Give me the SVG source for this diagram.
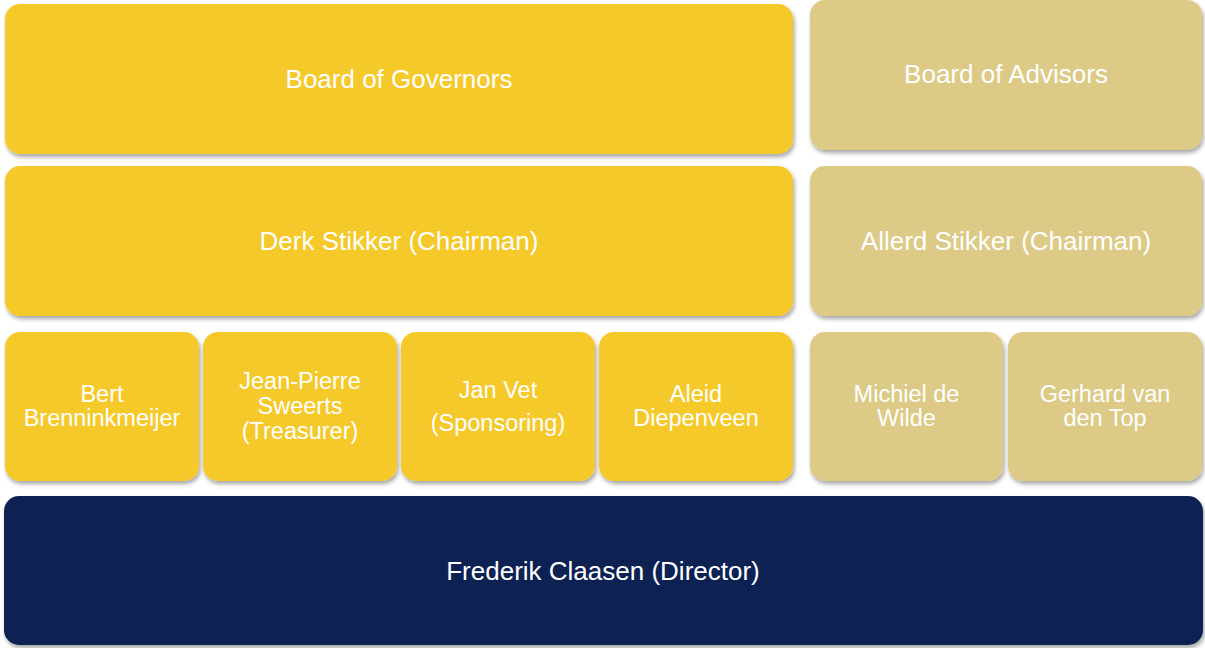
<svg xmlns="http://www.w3.org/2000/svg" width="1205" height="648" viewBox="0 0 1205 648">
<defs>
<filter id="sh" x="-5%" y="-10%" width="110%" height="125%">
<feDropShadow dx="1.5" dy="3" stdDeviation="2" flood-color="#000" flood-opacity="0.35"/>
</filter>
<style>
.gold{fill:#F5C92B;filter:url(#sh)}
.tan{fill:#DCCA86;filter:url(#sh)}
.navy{fill:#0B2353;filter:url(#sh)}
text{fill:#fff;text-anchor:middle}
.big{font-size:26px}
.sm{font-size:23.5px}
</style>
</defs>
<rect width="1205" height="648" fill="#fff"/>
<g id="connectors"/>
<g font-family="Liberation Sans">
<g id="board-governors"><rect class="gold" x="5" y="4" width="788" height="150" rx="15"/><text class="big" x="399" y="88">Board of Governors</text></g>
<g id="board-advisors"><rect class="tan" x="810" y="0" width="392" height="150" rx="15"/><text class="big" x="1006" y="83">Board of Advisors</text></g>
<g id="derk"><rect class="gold" x="5" y="166" width="788" height="150" rx="15"/><text class="big" x="399" y="250">Derk Stikker (Chairman)</text></g>
<g id="allerd"><rect class="tan" x="810" y="166" width="392" height="150" rx="15"/><text class="big" x="1006" y="250">Allerd Stikker (Chairman)</text></g>
<g id="bert"><rect class="gold" x="5" y="332" width="194" height="149" rx="15"/><text class="sm" x="102" y="402">Bert</text><text class="sm" x="102" y="426">Brenninkmeijer</text></g>
<g id="jean-pierre"><rect class="gold" x="203" y="332" width="194" height="149" rx="15"/><text class="sm" x="300" y="389">Jean-Pierre</text><text class="sm" x="300" y="414">Sweerts</text><text class="sm" x="300" y="439">(Treasurer)</text></g>
<g id="jan-vet"><rect class="gold" x="401" y="332" width="194" height="149" rx="15"/><text class="sm" x="498" y="398">Jan Vet</text><text class="sm" x="498" y="431">(Sponsoring)</text></g>
<g id="aleid"><rect class="gold" x="599" y="332" width="194" height="149" rx="15"/><text class="sm" x="696" y="402">Aleid</text><text class="sm" x="696" y="426">Diepenveen</text></g>
<g id="michiel"><rect class="tan" x="810" y="332" width="193" height="149" rx="15"/><text class="sm" x="906.5" y="402">Michiel de</text><text class="sm" x="906.5" y="426">Wilde</text></g>
<g id="gerhard"><rect class="tan" x="1008" y="332" width="194" height="149" rx="15"/><text class="sm" x="1105" y="402">Gerhard van</text><text class="sm" x="1105" y="426">den Top</text></g>
<g id="director"><rect class="navy" x="4" y="496" width="1199" height="149" rx="15"/><text class="big" x="603" y="580">Frederik Claasen (Director)</text></g>
</g>
</svg>
